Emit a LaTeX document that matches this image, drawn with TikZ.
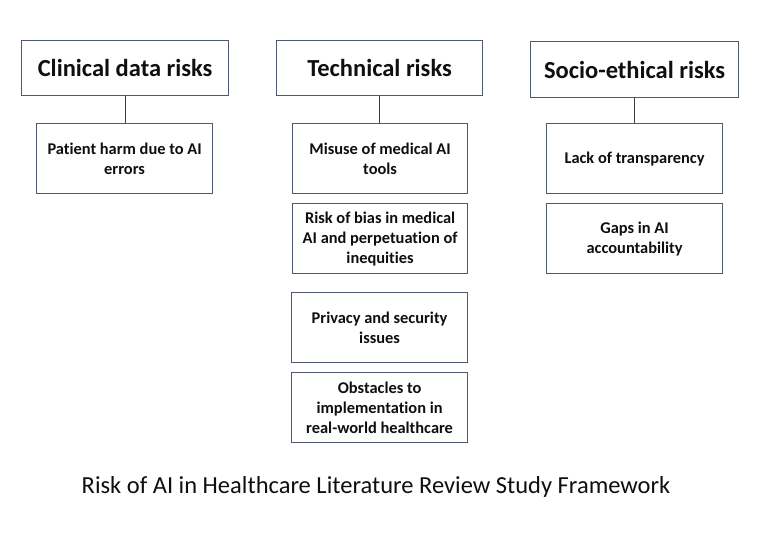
\documentclass[tikz,border=0pt]{standalone}
\usepackage{fontspec}
\setmainfont{Carlito}[Ligatures={NoCommon,NoRare,NoContextual}]
\definecolor{boxline}{RGB}{78,88,110}
\definecolor{linkline}{RGB}{60,60,60}
\definecolor{txt}{RGB}{15,15,15}
\begin{document}
\begin{tikzpicture}[x=1pt,y=-1pt,
  head/.style={draw=boxline,line width=1.2pt,fill=white,text=txt,font=\fontsize{24.5}{28}\selectfont\bfseries,inner sep=0pt,anchor=north west},
  item/.style={draw=boxline,line width=1.2pt,fill=white,text=txt,font=\fontsize{16.4}{20}\selectfont\bfseries,inner sep=0pt,align=center,anchor=north west},
  link/.style={draw=linkline,line width=1pt}]
\useasboundingbox (0,0) rectangle (768,533);
\fill[white] (0,0) rectangle (768,533);
% headers
\node[head,minimum width=207pt,minimum height=55pt] (h1) at (21,40) {Clinical data risks};
\node[head,minimum width=206pt,minimum height=55pt] (h2) at (276,40) {Technical risks};
\node[head,minimum width=208pt,minimum height=56pt] (h3) at (530,41) {Socio-ethical risks};
% items
\node[item,minimum width=176pt,minimum height=70pt] (c1) at (36,123) {Patient harm due to AI\\errors};
\node[item,minimum width=175pt,minimum height=70pt] (t1) at (292,123) {Misuse of medical AI\\tools};
\node[item,minimum width=175pt,minimum height=70pt] (t2) at (292,203) {Risk of bias in medical\\AI and perpetuation of\\inequities};
\node[item,minimum width=176pt,minimum height=70pt] (t3) at (291,292) {Privacy and security\\issues};
\node[item,minimum width=176pt,minimum height=70pt] (t4) at (291,372) {Obstacles to\\implementation in\\real-world healthcare};
\node[item,minimum width=176pt,minimum height=70pt] (s1) at (546,123) {Lack of transparency};
\node[item,minimum width=176pt,minimum height=70pt] (s2) at (546,203) {Gaps in AI\\accountability};
% connectors
\draw[link] (h1.south) -- (h1.south |- c1.north);
\draw[link] (h2.south) -- (h2.south |- t1.north);
\draw[link] (h3.south) -- (h3.south |- s1.north);
% caption
\node[font=\fontsize{24.5}{28}\selectfont,text=txt,inner sep=0pt] (cap) at (376,487) {Risk of AI in Healthcare Literature Review Study Framework};
\end{tikzpicture}
\end{document}
